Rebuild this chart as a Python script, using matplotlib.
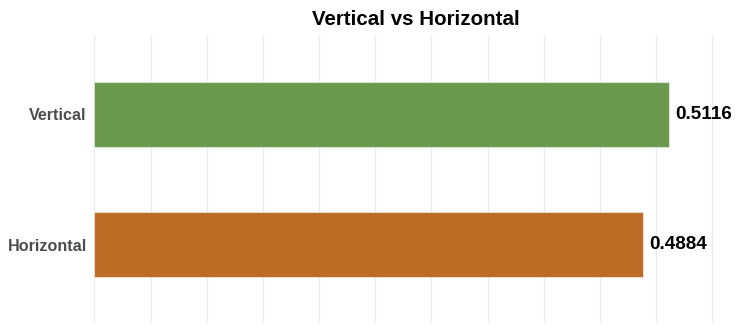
import matplotlib.pyplot as plt

categories = ['Horizontal', 'Vertical']
values = [0.4884, 0.5116]
colors = ['#BC6C25', '#6A994E']

plt.rcParams['font.family'] = ['Liberation Sans', 'DejaVu Sans']

fig = plt.figure(figsize=(7.44, 3.33), dpi=100)
ax = fig.add_axes([0.1268, 0.030, 0.8498, 0.862])

ax.barh(categories, values, height=0.5, color=colors,
        edgecolor=(1, 1, 1, 0.5), linewidth=0.8, zorder=2)

for i, v in enumerate(values):
    ax.annotate(f'{v:.4f}', (v, i), xytext=(4.5, 0), textcoords='offset points',
                va='center', ha='left', fontsize=13.6, fontweight='bold', color='black')

ax.set_xlim(0, 0.5628)
ax.set_ylim(-0.6, 1.6)
ax.set_xticks([i * 0.05 for i in range(12)])
ax.set_xticklabels([])
ax.tick_params(axis='both', length=0)
ax.tick_params(axis='y', pad=5.5, labelsize=11.6, labelcolor='#4D4D4D')
for lbl in ax.get_yticklabels():
    lbl.set_fontweight('bold')

ax.grid(axis='x', color='#EBEBEB', linewidth=1.0, zorder=0)
ax.set_axisbelow(True)
for s in ax.spines.values():
    s.set_visible(False)

fig.text(0.5587, 1 - 25 / 333, 'Vertical vs Horizontal', ha='center', va='baseline',
         fontsize=14.8, fontweight='bold', color='black')

fig.savefig('out.png', dpi=100)
